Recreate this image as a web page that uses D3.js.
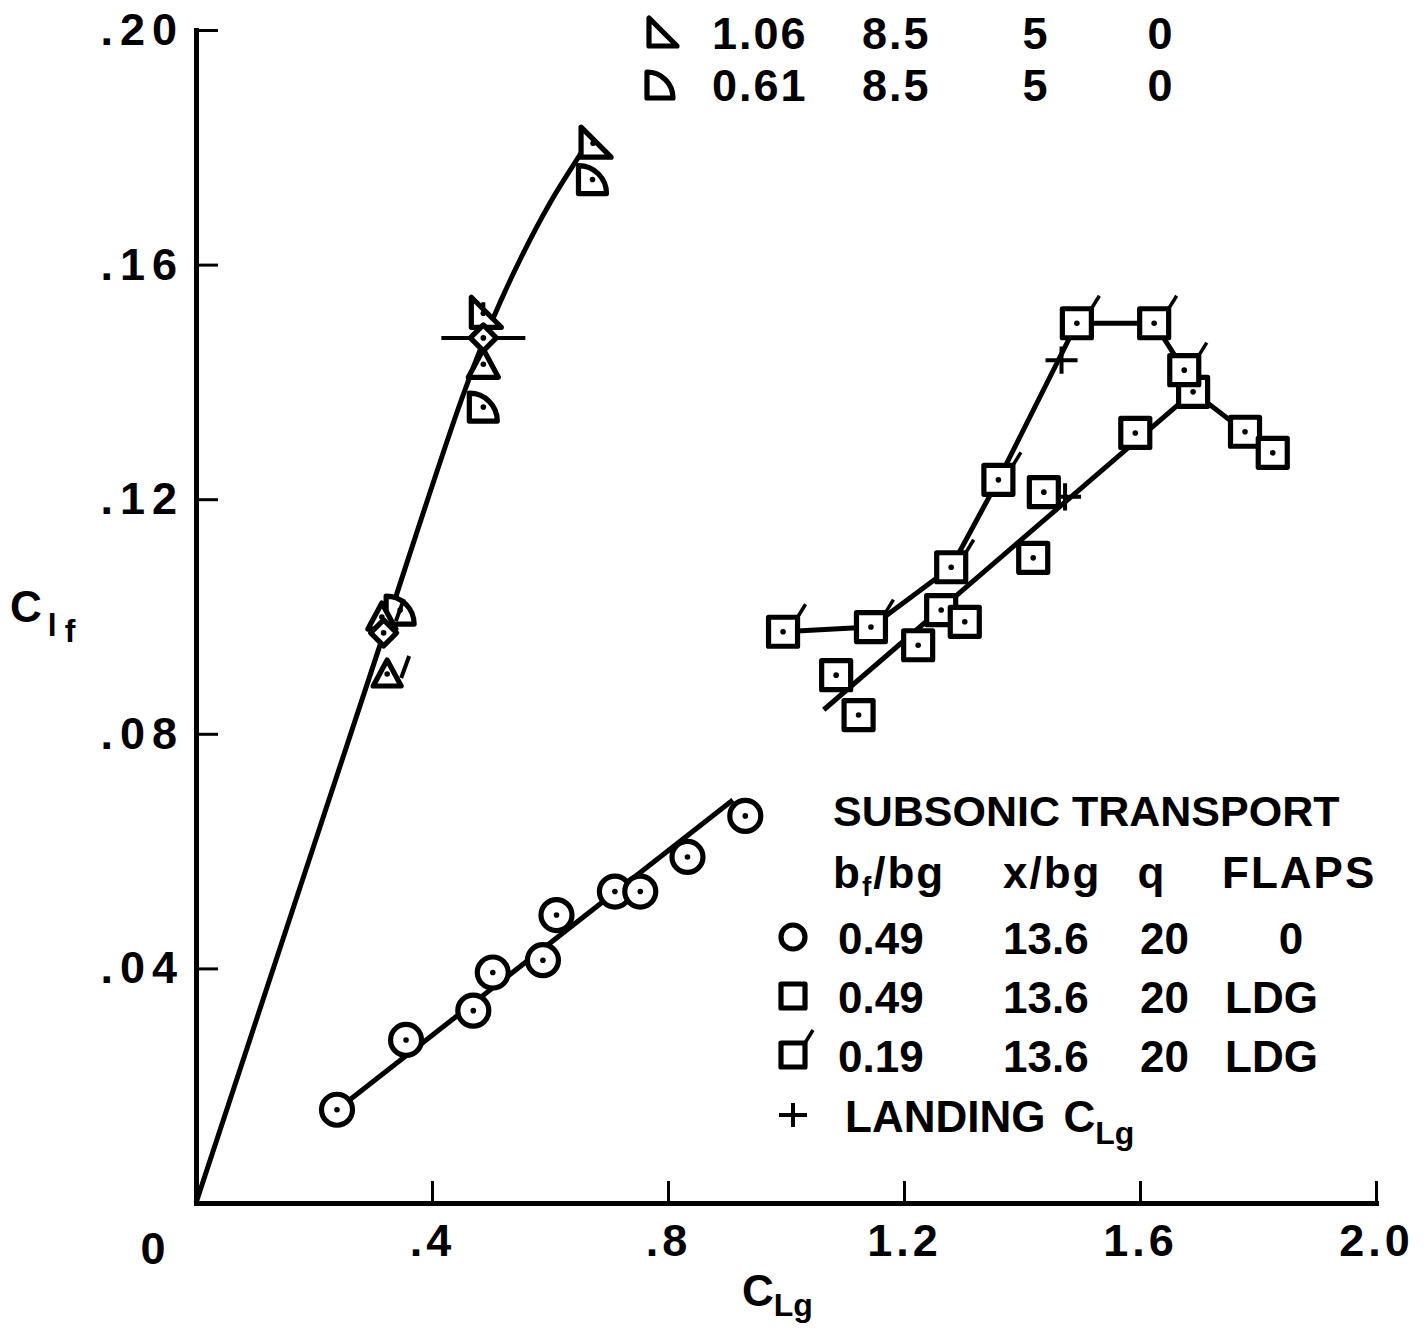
<!DOCTYPE html>
<html>
<head>
<meta charset="utf-8">
<script src="https://cdn.jsdelivr.net/npm/d3@7"></script>
<style>
body { margin: 0; background: #fff; }
text { font-family: "Liberation Sans", Arial, sans-serif; font-weight: bold; fill: #000; }
</style>
</head>
<body>
<div id="chart"></div>
<script>
// Data (CLg, Clf)

// subsonic transport, bf/bg 0.49, flaps 0
var circlePts = [[0.239,0.0159],[0.356,0.0278],[0.470,0.0328],[0.503,0.0393],[0.588,0.0414],
                 [0.611,0.0491],[0.710,0.0531],[0.753,0.0531],[0.833,0.0590],[0.931,0.0660]];
var circleFit = [[0.239,0.0159],[0.910,0.0687]];

// bf/bg 0.49, flaps LDG
var squarePts = [[1.085,0.0900],[1.123,0.0832],[1.224,0.0951],[1.263,0.1011],[1.303,0.0991],[1.419,0.1100],
                 [1.437,0.1212],[1.592,0.1313],[1.690,0.1383],[1.778,0.1315],[1.825,0.1279]];
var squareLine = [[1.064,0.0841],[1.690,0.1383],[1.778,0.1315],[1.825,0.1279]];

// bf/bg 0.19, flaps LDG (flagged squares)
var flagSquarePts = [[0.995,0.0974],[1.144,0.0982],[1.280,0.1084],[1.360,0.1233],[1.493,0.1500],[1.624,0.1500],[1.675,0.1420]];

// landing CLg
var landingPts = [[1.467,0.1437],[1.473,0.1204]];
var landingBig = [[0.487,0.1475]];

// left group
var rtriPts = [[0.673,0.1807],[0.487,0.1517]];            // bf/bg 1.06
var quartPts = [[0.672,0.1745],[0.487,0.1357],[0.346,0.1011]]; // bf/bg 0.61
var diamondPts = [[0.487,0.1475],[0.318,0.0972]];
var triPts = [[0.487,0.1430]];
var triFlagPts = [[0.324,0.0902],[0.315,0.0999]];
var leftCurve = [[0,0],[0.30,0.0915],[0.45,0.137],[0.50,0.150],[0.55,0.161],[0.60,0.1705],[0.656,0.1795]];

// ticks
var xTickVals = [0.4, 0.8, 1.2, 1.6, 2.0];
var xTickText = [".4", ".8", "1.2", "1.6", "2.0"];
var yTickVals = [0.04, 0.08, 0.12, 0.16, 0.20];
var yTickText = [".04", ".08", ".12", ".16", ".20"];

// legends
var topLegend = [
  {sym: "rtri", cols: ["1.06", "8.5", "5", "0"]},
  {sym: "quart", cols: ["0.61", "8.5", "5", "0"]}
];
var legendTitle = "SUBSONIC TRANSPORT";
var legendRows = [
  {sym: "circle", cols: ["0.49", "13.6", "20", "0"]},
  {sym: "square", cols: ["0.49", "13.6", "20", "LDG"]},
  {sym: "flagSquare", cols: ["0.19", "13.6", "20", "LDG"]}
];

var W = 1423, H = 1331;

var x = d3.scaleLinear().domain([0, 2]).range([196, 1376]);
var y = d3.scaleLinear().domain([0, 0.2]).range([1203, 30]);

var svg = d3.select("#chart").append("svg")
    .attr("width", W)
    .attr("height", H);

svg.append("rect").attr("width", W).attr("height", H).attr("fill", "#fff");

// symbol shapes, centred on 0,0
function symPath(type, s) {
  var h = s / 2;
  switch (type) {
    case "square": return "M" + (-h) + "," + (-h) + "h" + s + "v" + s + "h" + (-s) + "Z";
    case "rtri": return "M" + (-h + 2) + "," + (-h - 2) + "L" + (-h + 2) + "," + h + "L" + (h + 4) + "," + h + "Z";
    case "quart": return "M" + (-h) + "," + h + "L" + (-h) + "," + (-h) +
        "A" + s + "," + s + " 0 0 1 " + h + "," + h + "Z";
    case "diamond": return "M0," + (-h) + "L" + h + ",0L0," + h + "L" + (-h) + ",0Z";
    case "tri": return "M0," + (-h - 2) + "L" + (h + 2) + "," + h + "L" + (-h - 2) + "," + h + "Z";
  }
}

function drawMarker(g, type, cx, cy, s, dot) {
  var m = g.append("g").attr("transform", "translate(" + cx + "," + cy + ")");
  var sw = 5.2;
  if (type == "circle") {
    m.append("circle").attr("r", s / 2).attr("fill", "#fff").attr("stroke", "#000").attr("stroke-width", sw);
  } else if (type == "flagSquare") {
    m.append("path").attr("d", symPath("square", s)).attr("fill", "#fff").attr("stroke", "#000")
      .attr("stroke-width", sw).attr("stroke-linejoin", "round");
    m.append("line").attr("x1", s / 2).attr("y1", -s / 2).attr("x2", s / 2 + 8).attr("y2", -s / 2 - 13)
      .attr("stroke", "#000").attr("stroke-width", 3.5);
  } else if (type == "triFlag") {
    m.append("path").attr("d", symPath("tri", s)).attr("fill", "#fff").attr("stroke", "#000")
      .attr("stroke-width", sw).attr("stroke-linejoin", "round");
    m.append("line").attr("x1", s / 2 + 2).attr("y1", s / 2 - 8).attr("x2", s / 2 + 10).attr("y2", -s / 2 - 6)
      .attr("stroke", "#000").attr("stroke-width", 4);
  } else if (type == "plus") {
    m.append("path").attr("d", "M" + (-s) + ",0H" + s + "M0," + (-s * 0.85) + "V" + (s * 0.85))
      .attr("stroke", "#000").attr("stroke-width", 4).attr("fill", "none");
  } else {
    m.append("path").attr("d", symPath(type, s)).attr("fill", "#fff").attr("stroke", "#000")
      .attr("stroke-width", sw).attr("stroke-linejoin", "round");
  }
  if (dot) {
    m.append("circle").attr("r", 2.8).attr("fill", "#000");
  }
}

// axes
var xAxis = d3.axisBottom(x)
    .tickValues(xTickVals)
    .tickSize(-22)
    .tickSizeOuter(0)
    .tickPadding(21)
    .tickFormat(function(d, i) { return xTickText[i]; });

var yAxis = d3.axisLeft(y)
    .tickValues(yTickVals)
    .tickSize(-22)
    .tickSizeOuter(0)
    .tickPadding(12)
    .tickFormat(function(d, i) { return yTickText[i]; });

var gx = svg.append("g")
    .attr("transform", "translate(0," + y(0) + ")")
    .call(xAxis);
var gy = svg.append("g")
    .attr("transform", "translate(" + x(0) + ",0)")
    .call(yAxis);

[gx, gy].forEach(function(g) {
  g.attr("font-family", null).attr("font-size", null);
  g.select(".domain").attr("stroke-width", 5).attr("stroke-linecap", "square");
  g.selectAll(".tick line").attr("stroke-width", 3);
  g.selectAll(".tick text").style("font-size", "45px").attr("fill", "#000");
});
gy.selectAll(".tick text").style("letter-spacing", "7px");
gx.selectAll(".tick text").style("letter-spacing", "4px");

svg.append("text")
    .attr("x", 153).attr("y", 1264)
    .attr("text-anchor", "middle")
    .style("font-size", "45px")
    .text("0");

// axis titles
var yt = svg.append("text").attr("x", 10).attr("y", 622).style("font-size", "44px");
yt.append("tspan").text("C");
yt.append("tspan").attr("dx", 6).attr("dy", 14).style("font-size", "32px").text("l");
yt.append("tspan").attr("dx", 8).attr("dy", 6).style("font-size", "32px").text("f");

var xt = svg.append("text").attr("x", 742).attr("y", 1306).style("font-size", "44px");
xt.append("tspan").text("C");
xt.append("tspan").attr("dy", 10).style("font-size", "32px").text("Lg");

// lines
var line = d3.line()
    .x(function(d) { return x(d[0]); })
    .y(function(d) { return y(d[1]); });

var lines = svg.append("g")
    .attr("fill", "none")
    .attr("stroke", "#000")
    .attr("stroke-width", 5)
    .attr("stroke-linejoin", "round");

lines.append("path").attr("d", line.curve(d3.curveCatmullRom)(leftCurve));
line.curve(d3.curveLinear);
lines.append("path").attr("d", line(circleFit));
lines.append("path").attr("d", line(squareLine));
lines.append("path").attr("d", line(flagSquarePts));

// markers
var marks = svg.append("g");

landingBig.forEach(function(d) { drawMarker(marks, "plus", x(d[0]), y(d[1]), 42, false); });
landingPts.forEach(function(d) { drawMarker(marks, "plus", x(d[0]), y(d[1]), 16, false); });

circlePts.forEach(function(d) { drawMarker(marks, "circle", x(d[0]), y(d[1]), 31, true); });
squarePts.forEach(function(d) { drawMarker(marks, "square", x(d[0]), y(d[1]), 29, true); });
flagSquarePts.forEach(function(d) { drawMarker(marks, "flagSquare", x(d[0]), y(d[1]), 29, true); });

quartPts.forEach(function(d) { drawMarker(marks, "quart", x(d[0]), y(d[1]), 28, true); });
triPts.forEach(function(d) { drawMarker(marks, "tri", x(d[0]), y(d[1]), 26, true); });
triFlagPts.forEach(function(d) { drawMarker(marks, "triFlag", x(d[0]), y(d[1]), 24, true); });
rtriPts.forEach(function(d) { drawMarker(marks, "rtri", x(d[0]), y(d[1]), 28, true); });
diamondPts.forEach(function(d) { drawMarker(marks, "diamond", x(d[0]), y(d[1]), 26, true); });

// top legend (rest of it is cut off above the frame)
var topCols = [{x: 712, a: "start"}, {x: 862, a: "start"}, {x: 1035, a: "middle"}, {x: 1160, a: "middle"}];
topLegend.forEach(function(r, i) {
  var cy = 33 + i * 52;
  drawMarker(svg, r.sym, 660, cy, 26, false);
  r.cols.forEach(function(c, j) {
    svg.append("text")
      .attr("x", topCols[j].x).attr("y", cy + 16)
      .attr("text-anchor", topCols[j].a)
      .style("font-size", "45px")
      .style("letter-spacing", j < 2 ? "2px" : null)
      .text(c);
  });
});

// main legend
svg.append("text")
    .attr("x", 833).attr("y", 826)
    .style("font-size", "43px")
    .text(legendTitle);

var hdr = svg.append("g").style("font-size", "44px").style("letter-spacing", "2px");
var h1 = hdr.append("text").attr("x", 833).attr("y", 888);
h1.append("tspan").text("b");
h1.append("tspan").attr("dy", 8).style("font-size", "28px").text("f");
h1.append("tspan").attr("dy", -8).text("/bg");
hdr.append("text").attr("x", 1003).attr("y", 888).text("x/bg");
hdr.append("text").attr("x", 1152).attr("y", 888).attr("text-anchor", "middle").text("q");
hdr.append("text").attr("x", 1222).attr("y", 888).text("FLAPS");

var rowCols = [{x: 838, a: "start"}, {x: 1003, a: "start"}, {x: 1140, a: "start"}];
legendRows.forEach(function(r, i) {
  var cy = 937 + i * 59;
  drawMarker(svg, r.sym, 793, cy, 24, false);
  r.cols.forEach(function(c, j) {
    var t = svg.append("text").attr("y", cy + 17).style("font-size", "44px").text(c);
    if (j < 3) {
      t.attr("x", rowCols[j].x).attr("text-anchor", rowCols[j].a);
    } else if (c == "LDG") {
      t.attr("x", 1225);
    } else {
      t.attr("x", 1291).attr("text-anchor", "middle");
    }
  });
});

drawMarker(svg, "plus", 793, 1115, 14, false);
var lt = svg.append("text").attr("x", 845).attr("y", 1132).style("font-size", "44px");
lt.append("tspan").text("LANDING");
lt.append("tspan").attr("dx", 18).text("C");
lt.append("tspan").attr("dy", 12).style("font-size", "32px").text("Lg");
</script>
</body>
</html>
